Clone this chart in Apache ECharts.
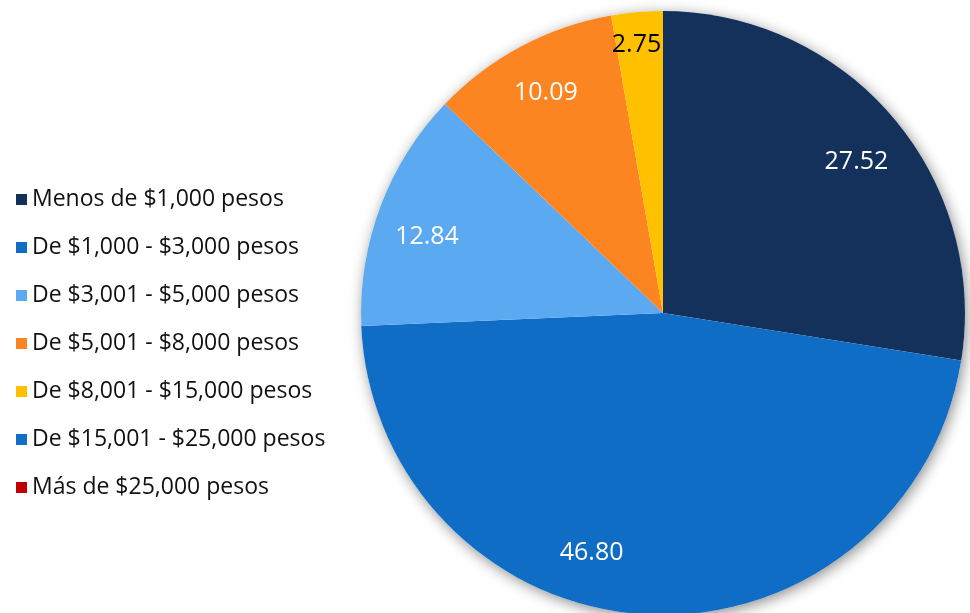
<!DOCTYPE html>
<html><head><meta charset="utf-8">
<script src="https://cdn.jsdelivr.net/npm/echarts@6/dist/echarts.min.js"></script>
<style>html,body{margin:0;padding:0;background:#fff}#c{width:970px;height:613px}</style>
</head><body><div id="c"></div>
<script>
const categories = [
  'Menos de $1,000 pesos',
  'De $1,000 - $3,000 pesos',
  'De $3,001 - $5,000 pesos',
  'De $5,001 - $8,000 pesos',
  'De $8,001 - $15,000 pesos',
  'De $15,001 - $25,000 pesos',
  'Más de $25,000 pesos'
];
const values = [27.52, 46.80, 12.84, 10.09, 2.75, 0, 0];
const colors = ['#13315a', '#0f6dc6', '#5ba9f0', '#fc8522', '#ffc000', '#106fc6', '#c00000'];
const labelColors = ['#fff', '#fff', '#fff', '#fff', '#000', '#fff', '#fff'];
const labelOffsets = [[4, 10], [-57, -9], [-3, 12], [0, 0], [-5, -20], [0, 0], [0, 0]];

const chart = echarts.init(document.getElementById('c'), null, {renderer: 'canvas'});
const center = [663, 313];
const R = 302;
const mainData = categories.map((n, i) => ({name: n, value: values[i], itemStyle: {color: colors[i]}}));
const labelData = categories.map((n, i) => ({
  name: n, value: values[i],
  label: {show: values[i] > 0, color: labelColors[i], offset: labelOffsets[i]}
}));
chart.setOption({
  animation: false,
  legend: {
    orient: 'vertical', left: 11, top: 183,
    itemWidth: 11, itemHeight: 11, itemGap: 25,
    icon: 'rect',
    data: categories,
    textStyle: {fontFamily: 'Open Sans', fontSize: 23, color: '#111'}
  },
  series: [
    {
      type: 'pie', center: center, radius: [0, R], silent: true,
      startAngle: 90, clockwise: true, z: 1,
      label: {show: false}, labelLine: {show: false},
      itemStyle: {color: '#fff', shadowBlur: 14, shadowColor: 'rgba(0,0,0,0.45)', shadowOffsetX: 2, shadowOffsetY: 3},
      data: [{name: '', value: 1}],
      legendHoverLink: false
    },
    {
      type: 'pie', center: center, radius: [0, R], z: 2,
      startAngle: 90, clockwise: true,
      label: {show: false}, labelLine: {show: false},
      itemStyle: {borderWidth: 0},
      data: mainData
    },
    {
      type: 'pie', center: center, radius: [190, R], z: 3, silent: true,
      startAngle: 90, clockwise: true,
      itemStyle: {color: 'rgba(0,0,0,0)', borderWidth: 0},
      label: {show: true, position: 'inside', fontFamily: 'Open Sans', fontSize: 25,
        formatter: p => p.value.toFixed(2)},
      labelLine: {show: false},
      data: labelData
    }
  ]
});
</script></body></html>
